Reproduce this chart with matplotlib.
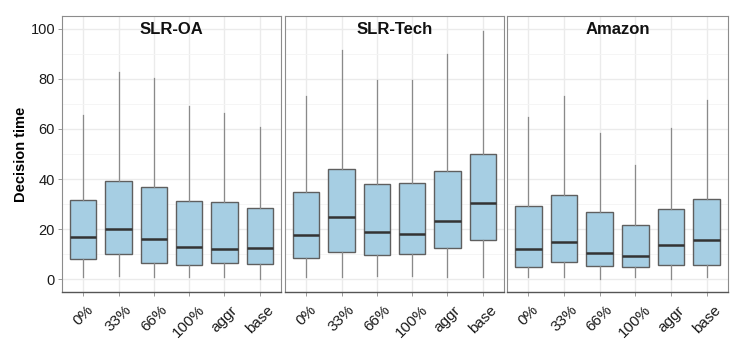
import matplotlib
matplotlib.use("Agg")
import matplotlib.pyplot as plt
from matplotlib.ticker import MultipleLocator

plt.rcParams['font.family'] = ['Liberation Sans', 'DejaVu Sans']

categories = ["0%", "33%", "66%", "100%", "aggr", "base"]
panels = ["SLR-OA", "SLR-Tech", "Amazon"]

# per panel: whisker low, Q1, median, Q3, whisker high
slr_oa_low = [1.1, 1.4, 1.1, 1.1, 1.1, 0.0]
slr_oa_q1 = [8.2, 10.3, 6.7, 5.9, 6.4, 6.0]
slr_oa_med = [16.9, 20.2, 16.2, 13.0, 12.3, 12.6]
slr_oa_q3 = [31.5, 39.4, 36.7, 31.3, 30.8, 28.4]
slr_oa_high = [65.4, 82.8, 80.1, 69.0, 66.2, 60.6]

slr_tech_low = [1.1, 1.0, 1.4, 1.4, 1.1, 0.9]
slr_tech_q1 = [8.7, 10.8, 9.9, 10.3, 12.4, 15.6]
slr_tech_med = [17.7, 24.7, 18.8, 18.1, 23.3, 30.5]
slr_tech_q3 = [34.7, 43.9, 38.2, 38.4, 43.4, 49.9]
slr_tech_high = [73.0, 91.3, 79.3, 79.6, 89.7, 99.2]

amazon_low = [1.1, 1.1, 0.0, 1.1, 0.0, 0.9]
amazon_q1 = [4.9, 7.0, 5.4, 5.1, 5.9, 5.6]
amazon_med = [12.0, 15.0, 10.4, 9.3, 13.6, 15.7]
amazon_q3 = [29.1, 33.6, 26.8, 21.8, 27.9, 32.0]
amazon_high = [64.7, 73.0, 58.3, 45.8, 60.4, 71.5]

data = [
    (slr_oa_low, slr_oa_q1, slr_oa_med, slr_oa_q3, slr_oa_high),
    (slr_tech_low, slr_tech_q1, slr_tech_med, slr_tech_q3, slr_tech_high),
    (amazon_low, amazon_q1, amazon_med, amazon_q3, amazon_high),
]

fig = plt.figure(figsize=(7.48, 3.47), dpi=100)
W, H = 748, 347
lefts = [62, 285, 507]
rights = [281, 504, 728]
top_px, bot_px = 16, 292

fill = "#a6cee3"
for i, (name, (lo, q1, med, q3, hi)) in enumerate(zip(panels, data)):
    ax = fig.add_axes([lefts[i] / W, 1 - bot_px / H, (rights[i] - lefts[i]) / W, (bot_px - top_px) / H])
    stats = []
    for j, c in enumerate(categories):
        stats.append(dict(label=c, whislo=lo[j], q1=q1[j], med=med[j], q3=q3[j], whishi=hi[j], fliers=[]))
    ax.bxp(stats, positions=range(1, 7), widths=0.75, patch_artist=True, showcaps=False,
           boxprops=dict(facecolor=fill, edgecolor="#5f5f5f", linewidth=1.0),
           medianprops=dict(color="#333333", linewidth=1.8),
           whiskerprops=dict(color="#8a8a8a", linewidth=0.9),
           zorder=3)
    ax.set_xlim(0.4, 6.6)
    ax.set_ylim(-5, 105)
    ax.yaxis.set_major_locator(MultipleLocator(20))
    ax.yaxis.set_minor_locator(MultipleLocator(10))
    ax.grid(True, which="major", color="#ebebeb", linewidth=1.0, zorder=0)
    ax.grid(True, which="minor", axis="y", color="#f4f4f4", linewidth=0.6, zorder=0)
    ax.set_axisbelow(True)
    for s in ax.spines.values():
        s.set_color("#8c8c8c")
        s.set_linewidth(0.8)
    ax.spines["bottom"].set_color("#555555")
    ax.spines["bottom"].set_linewidth(1.0)
    ax.tick_params(axis="both", which="major", length=3, color="#8c8c8c", width=0.6,
                   labelsize=10.5, labelcolor="#1a1a1a", pad=2)
    ax.tick_params(axis="x", which="major", pad=5, labelsize=11)
    ax.tick_params(axis="y", which="minor", length=0)
    ax.set_xticks(range(1, 7))
    ax.set_xticklabels(categories, rotation=45, ha="center", va="top")
    if i == 0:
        ax.set_ylabel("Decision time", fontsize=10.5, fontweight="bold", labelpad=2)
    else:
        ax.tick_params(axis="y", which="both", left=False, labelleft=False)
    ax.text(0.5, 0.98, name, transform=ax.transAxes, ha="center", va="top",
            fontsize=12, fontweight="bold", color="#111111")

fig.savefig("out.png", dpi=100)
